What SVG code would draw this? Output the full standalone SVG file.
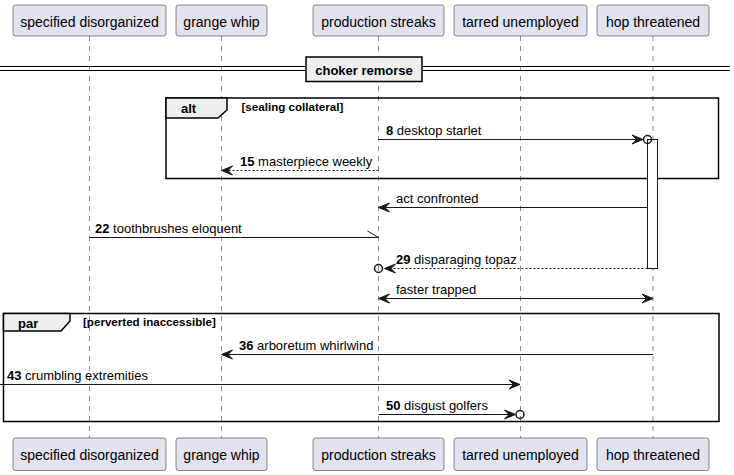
<svg xmlns="http://www.w3.org/2000/svg" width="734" height="475" viewBox="0 0 734 475">
<style>
.pbox{fill:#E2E2F0;stroke:#181818;stroke-width:0.5;}
.ptxt{font-family:"Liberation Sans",Arial,sans-serif;font-size:14px;fill:#000;text-anchor:middle;}
.life{stroke:#181818;stroke-width:0.5;stroke-dasharray:5,5;fill:none;}
.msg{stroke:#181818;stroke-width:1;fill:none;}
.dash{stroke:#181818;stroke-width:1;fill:none;stroke-dasharray:2,2;}
.head{fill:#181818;stroke:#181818;stroke-width:1;}
.circ{fill:none;stroke:#181818;stroke-width:1.5;}
.mtxt{font-family:"Liberation Sans",Arial,sans-serif;font-size:13px;fill:#000;}
.num{font-weight:bold;}
.frame{fill:none;stroke:#000;stroke-width:1.5;}
.tab{fill:#EEEEEE;stroke:#000;stroke-width:1.5;}
.ftxt{font-family:"Liberation Sans",Arial,sans-serif;font-size:13px;font-weight:bold;fill:#000;}
.ctxt{font-family:"Liberation Sans",Arial,sans-serif;font-size:11.6px;font-weight:bold;fill:#000;}
.act{fill:#FFFFFF;stroke:#181818;stroke-width:1;}
.div{stroke:#000;stroke-width:1;}
</style>
<g id="lifelines">
<line class="life" x1="89.5" y1="36" x2="89.5" y2="438"/>
<line class="life" x1="221.5" y1="36" x2="221.5" y2="438"/>
<line class="life" x1="378.5" y1="36" x2="378.5" y2="438"/>
<line class="life" x1="520.5" y1="36" x2="520.5" y2="438"/>
<line class="life" x1="653" y1="36" x2="653" y2="438"/>
</g>
<g id="divider">
<line class="div" x1="0" y1="66.5" x2="730" y2="66.5"/>
<line class="div" x1="0" y1="70.5" x2="730" y2="70.5"/>
<rect x="306" y="57" width="116" height="24.5" fill="#EEEEEE" stroke="#000" stroke-width="1.5"/>
<text class="ftxt" x="364" y="74.5" text-anchor="middle">choker remorse</text>
</g>
<g id="frame-alt">
<rect class="frame" x="166" y="98" width="552.5" height="80.5"/>
<path class="tab" d="M166,98 L227,98 L227,110 L218,118 L166,118 Z"/>
<text class="ftxt" x="181" y="113">alt</text>
<text class="ctxt" x="241.5" y="111">[sealing collateral]</text>
</g>
<g id="frame-par">
<rect class="frame" x="3.5" y="313.5" width="715.5" height="108"/>
<path class="tab" d="M3.5,313.5 L70,313.5 L70,321 L61,331 L3.5,331 Z"/>
<text class="ftxt" x="18" y="327.5">par</text>
<text class="ctxt" x="83" y="326">[perverted inaccessible]</text>
</g>
<g id="activation">
<rect class="act" x="647.5" y="139.5" width="10" height="129"/>
</g>
<g id="connectors">
<line class="msg" x1="378.5" y1="139.5" x2="641" y2="139.5"/>
<polygon class="head" points="643,139.5 632,135 636.5,139.5 632,144"/>
<circle class="circ" cx="647.5" cy="139.5" r="4"/>
<text class="mtxt" x="386" y="134.5"><tspan class="num">8</tspan> desktop starlet</text>
<line class="dash" x1="378.5" y1="170.5" x2="223" y2="170.5"/>
<polygon class="head" points="221.5,170.5 232.5,166 228,170.5 232.5,175"/>
<text class="mtxt" x="240" y="165.5"><tspan class="num">15</tspan> masterpiece weekly</text>
<line class="msg" x1="647.5" y1="207.5" x2="380" y2="207.5"/>
<polygon class="head" points="378.5,207.5 389.5,203 385,207.5 389.5,212"/>
<text class="mtxt" x="396" y="202.5">act confronted</text>
<line class="msg" x1="89.5" y1="237.5" x2="378.5" y2="237.5"/>
<line class="msg" x1="367.5" y1="231" x2="378.5" y2="237.5"/>
<text class="mtxt" x="95" y="232.5"><tspan class="num">22</tspan> toothbrushes eloquent</text>
<line class="dash" x1="647.5" y1="268.5" x2="387" y2="268.5"/>
<polygon class="head" points="384.5,268.5 395.5,264 391,268.5 395.5,273"/>
<circle class="circ" cx="378.5" cy="268.5" r="4"/>
<text class="mtxt" x="396" y="263.5"><tspan class="num">29</tspan> disparaging topaz</text>
<line class="msg" x1="380" y1="298.5" x2="651.5" y2="298.5"/>
<polygon class="head" points="378.5,298.5 389.5,294 385,298.5 389.5,303"/>
<polygon class="head" points="653,298.5 642,294 646.5,298.5 642,303"/>
<text class="mtxt" x="396" y="293.5">faster trapped</text>
<line class="msg" x1="653" y1="354.5" x2="223" y2="354.5"/>
<polygon class="head" points="221.5,354.5 232.5,350 228,354.5 232.5,359"/>
<text class="mtxt" x="239" y="349.5"><tspan class="num">36</tspan> arboretum whirlwind</text>
<line class="msg" x1="0" y1="384.5" x2="518.5" y2="384.5"/>
<polygon class="head" points="520,384.5 509,380 513.5,384.5 509,389"/>
<text class="mtxt" x="7" y="379.5"><tspan class="num">43</tspan> crumbling extremities</text>
<line class="msg" x1="378.5" y1="414.5" x2="513.5" y2="414.5"/>
<polygon class="head" points="515.5,414.5 504.5,410 509,414.5 504.5,419"/>
<circle class="circ" cx="520" cy="414.5" r="4"/>
<text class="mtxt" x="386" y="409.5"><tspan class="num">50</tspan> disgust golfers</text>
</g>
<g id="p-specified-disorganized">
<rect class="pbox" x="13" y="5" width="153" height="31" rx="2.5"/>
<text class="ptxt" x="89.5" y="26.5">specified disorganized</text>
<rect class="pbox" x="13" y="438" width="153" height="32.5" rx="2.5"/>
<text class="ptxt" x="89.5" y="459.5">specified disorganized</text>
</g>
<g id="p-grange-whip">
<rect class="pbox" x="176" y="5" width="91" height="31" rx="2.5"/>
<text class="ptxt" x="221.5" y="26.5">grange whip</text>
<rect class="pbox" x="176" y="438" width="91" height="32.5" rx="2.5"/>
<text class="ptxt" x="221.5" y="459.5">grange whip</text>
</g>
<g id="p-production-streaks">
<rect class="pbox" x="313" y="5" width="131" height="31" rx="2.5"/>
<text class="ptxt" x="378.5" y="26.5">production streaks</text>
<rect class="pbox" x="313" y="438" width="131" height="32.5" rx="2.5"/>
<text class="ptxt" x="378.5" y="459.5">production streaks</text>
</g>
<g id="p-tarred-unemployed">
<rect class="pbox" x="454" y="5" width="133" height="31" rx="2.5"/>
<text class="ptxt" x="520.5" y="26.5">tarred unemployed</text>
<rect class="pbox" x="454" y="438" width="133" height="32.5" rx="2.5"/>
<text class="ptxt" x="520.5" y="459.5">tarred unemployed</text>
</g>
<g id="p-hop-threatened">
<rect class="pbox" x="597" y="5" width="112" height="31" rx="2.5"/>
<text class="ptxt" x="653" y="26.5">hop threatened</text>
<rect class="pbox" x="597" y="438" width="112" height="32.5" rx="2.5"/>
<text class="ptxt" x="653" y="459.5">hop threatened</text>
</g>
</svg>
